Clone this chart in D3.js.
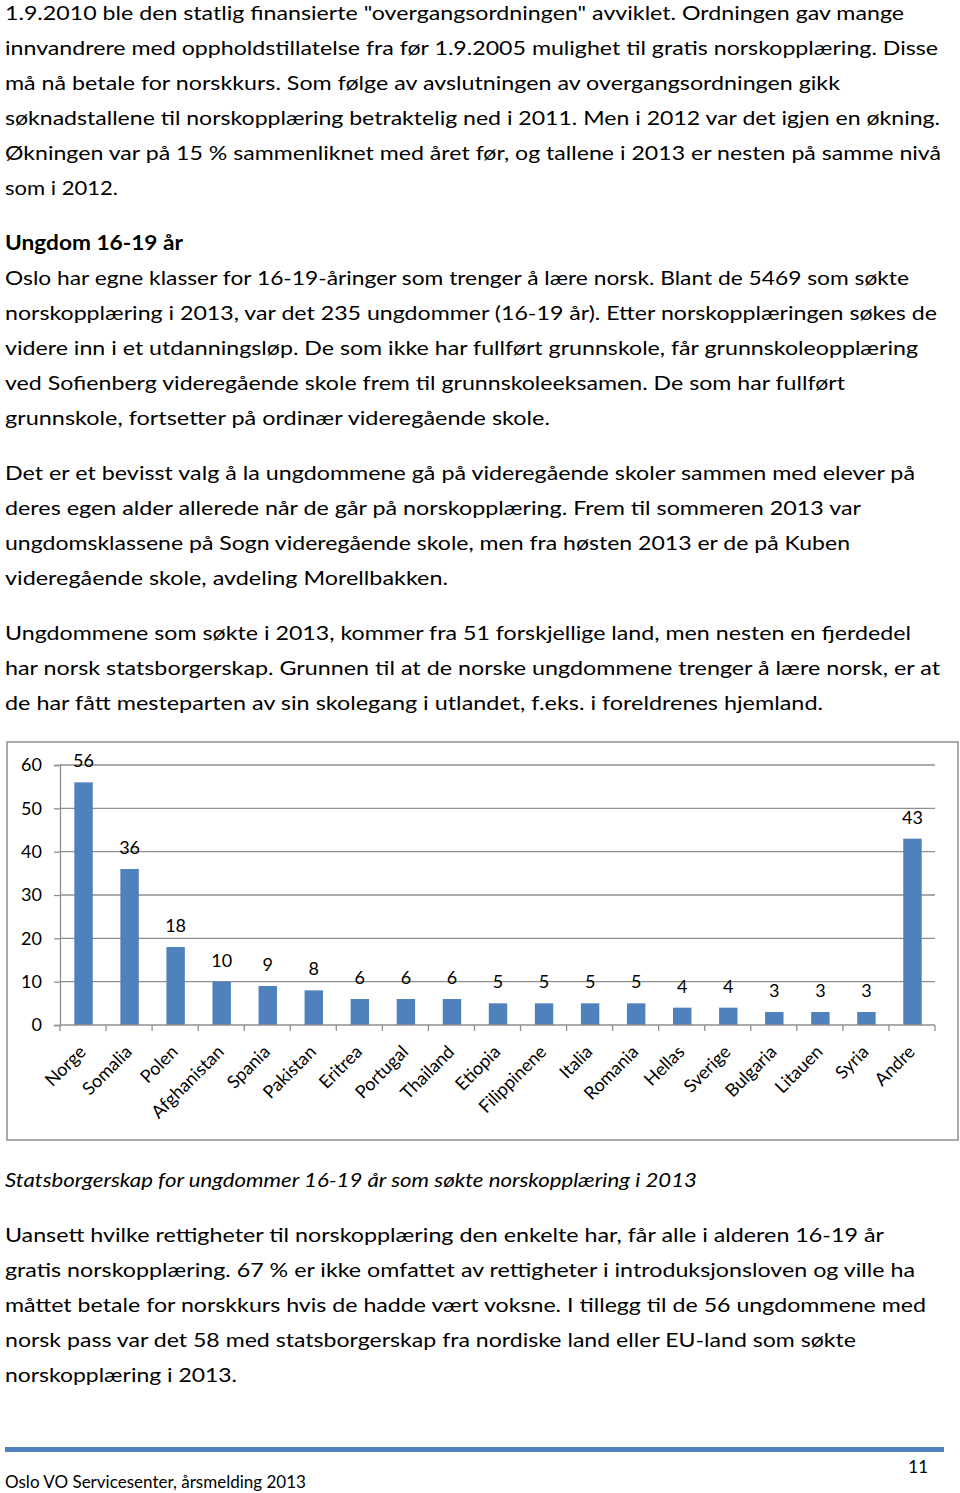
<!DOCTYPE html>
<html><head><meta charset="utf-8">
<script src="https://cdn.jsdelivr.net/npm/d3@7"></script>
<style>
html,body{margin:0;padding:0;background:#fff;}
svg{display:block;}
</style></head>
<body>
<svg id="page" width="960" height="1493"></svg>
<script>
// ---- chart data ----
const categories = ["Norge","Somalia","Polen","Afghanistan","Spania","Pakistan","Eritrea","Portugal","Thailand","Etiopia","Filippinene","Italia","Romania","Hellas","Sverige","Bulgaria","Litauen","Syria","Andre"];
const values = [56,36,18,10,9,8,6,6,6,5,5,5,5,4,4,3,3,3,43];
const yTicks = [0,10,20,30,40,50,60];

// ---- document text ----
const para1 = [
  "1.9.2010 ble den statlig finansierte \"overgangsordningen\" avviklet. Ordningen gav mange",
  "innvandrere med oppholdstillatelse fra før 1.9.2005 mulighet til gratis norskopplæring. Disse",
  "må nå betale for norskkurs. Som følge av avslutningen av overgangsordningen gikk",
  "søknadstallene til norskopplæring betraktelig ned i 2011. Men i 2012 var det igjen en økning.",
  "Økningen var på 15 % sammenliknet med året før, og tallene i 2013 er nesten på samme nivå",
  "som i 2012."
];
const heading = "Ungdom 16-19 år";
const para2 = [
  "Oslo har egne klasser for 16-19-åringer som trenger å lære norsk. Blant de 5469 som søkte",
  "norskopplæring i 2013, var det 235 ungdommer (16-19 år). Etter norskopplæringen søkes de",
  "videre inn i et utdanningsløp. De som ikke har fullført grunnskole, får grunnskoleopplæring",
  "ved Sofienberg videregående skole frem til grunnskoleeksamen. De som har fullført",
  "grunnskole, fortsetter på ordinær videregående skole."
];
const para3 = [
  "Det er et bevisst valg å la ungdommene gå på videregående skoler sammen med elever på",
  "deres egen alder allerede når de går på norskopplæring. Frem til sommeren 2013 var",
  "ungdomsklassene på Sogn videregående skole, men fra høsten 2013 er de på Kuben",
  "videregående skole, avdeling Morellbakken."
];
const para4 = [
  "Ungdommene som søkte i 2013, kommer fra 51 forskjellige land, men nesten en fjerdedel",
  "har norsk statsborgerskap. Grunnen til at de norske ungdommene trenger å lære norsk, er at",
  "de har fått mesteparten av sin skolegang i utlandet, f.eks. i foreldrenes hjemland."
];
const caption = "Statsborgerskap for ungdommer 16-19 år som søkte norskopplæring i 2013";
const para5 = [
  "Uansett hvilke rettigheter til norskopplæring den enkelte har, får alle i alderen 16-19 år",
  "gratis norskopplæring. 67 % er ikke omfattet av rettigheter i introduksjonsloven og ville ha",
  "måttet betale for norskkurs hvis de hadde vært voksne. I tillegg til de 56 ungdommene med",
  "norsk pass var det 58 med statsborgerskap fra nordiske land eller EU-land som søkte",
  "norskopplæring i 2013."
];
const footerText = "Oslo VO Servicesenter, årsmelding 2013";
const pageNumber = "11";

const ends1 = [904,938,840,940,941,118];
const ends2 = [909,937,918,845,550];
const ends3 = [915,861,850,448];
const ends4 = [911,940,823];
const ends5 = [884,915,926,856,237];

const svg = d3.select("#page");
const FONT = "Lato, 'Open Sans', sans-serif";
const LEFT = 5;

function block(lines, ends, y0, opts={}) {
  lines.forEach((t,i)=>{
    const el = svg.append("text")
      .attr("x", LEFT).attr("y", y0 + i*35)
      .attr("font-family", FONT).attr("font-size", 20)
      .attr("font-weight", opts.bold ? "bold" : "normal")
      .attr("font-style", opts.italic ? "italic" : "normal")
      .attr("fill", "#000")
      .text(t);
    el.attr("textLength", ends[i]-LEFT).attr("lengthAdjust","spacingAndGlyphs");
  });
}
block(para1, ends1, 19.5);
block([heading], [183], 249.5, {bold:true});
block(para2, ends2, 284.5);
block(para3, ends3, 479.5);
block(para4, ends4, 639.5);
block([caption], [697], 1187, {italic:true});
block(para5, ends5, 1242);

// ---- chart ----
const frame = {x:7, y:742, w:951, h:398};
svg.append("rect").attr("x",frame.x).attr("y",frame.y).attr("width",frame.w).attr("height",frame.h)
  .attr("fill","#fff").attr("stroke","#8f8f8f").attr("stroke-width",1.5);

const x = d3.scaleBand().domain(categories).range([60,935]).paddingInner(0).paddingOuter(0);
const y = d3.scaleLinear().domain([0,60]).range([1025,765]);
const g = svg.append("g");

// gridlines
g.selectAll("line.grid").data(yTicks.filter(d=>d>0)).join("line")
  .attr("x1",60).attr("x2",935).attr("y1",d=>y(d)).attr("y2",d=>y(d))
  .attr("stroke","#8f8f8f").attr("stroke-width",1.3);

// y axis
const yAxis = d3.axisLeft(y).tickValues(yTicks).tickSize(6).tickPadding(12).tickFormat(d3.format("d"));
const ya = g.append("g").attr("transform","translate(60,0)").call(yAxis);
ya.select(".domain").attr("stroke","#8f8f8f").attr("stroke-width",1.3);
ya.selectAll(".tick line").attr("stroke","#8f8f8f").attr("stroke-width",1.3);
ya.selectAll(".tick text").attr("font-family",FONT).attr("font-size",18).attr("fill","#000");

// bars
const bw = x.bandwidth()*0.4;
g.selectAll("rect.bar").data(values).join("rect")
  .attr("x",(d,i)=>x(categories[i]) + x.bandwidth()/2 - bw/2 + 0.5)
  .attr("y",d=>y(d)).attr("width",bw).attr("height",d=>y(0)-y(d))
  .attr("fill","#4F81BD");

// data labels
g.selectAll("text.lab").data(values).join("text")
  .attr("x",(d,i)=>x(categories[i]) + x.bandwidth()/2 + 0.5)
  .attr("y",d=>y(d)-15)
  .attr("text-anchor","middle").attr("font-family",FONT).attr("font-size",18).attr("fill","#000")
  .text(d=>d);

// x axis
const xa = g.append("g").attr("transform","translate(0,1025)");
xa.append("line").attr("x1",60).attr("x2",935).attr("stroke","#8f8f8f").attr("stroke-width",1.3);
const bounds = categories.map(c=>x(c)).concat([x.range()[1]]);
xa.selectAll("line.tk").data(bounds).join("line")
  .attr("x1",d=>d).attr("x2",d=>d).attr("y1",0).attr("y2",6)
  .attr("stroke","#8f8f8f").attr("stroke-width",1.3);
g.selectAll("text.xl").data(categories).join("text")
  .attr("transform",d=>`translate(${x(d)+x.bandwidth()/2+4},1053) rotate(-45)`)
  .attr("text-anchor","end").attr("font-family",FONT).attr("font-size",18).attr("fill","#000")
  .text(d=>d);

// ---- footer ----
svg.append("rect").attr("x",5).attr("y",1447).attr("width",939).attr("height",5).attr("fill","#4F81BD");
svg.append("text").attr("x",5).attr("y",1488).attr("font-family",FONT).attr("font-size",17)
  .attr("textLength",301).attr("lengthAdjust","spacingAndGlyphs").text(footerText);
svg.append("text").attr("x",928).attr("y",1473).attr("text-anchor","end").attr("font-family",FONT).attr("font-size",17)
  .text(pageNumber);
</script>
</body></html>
